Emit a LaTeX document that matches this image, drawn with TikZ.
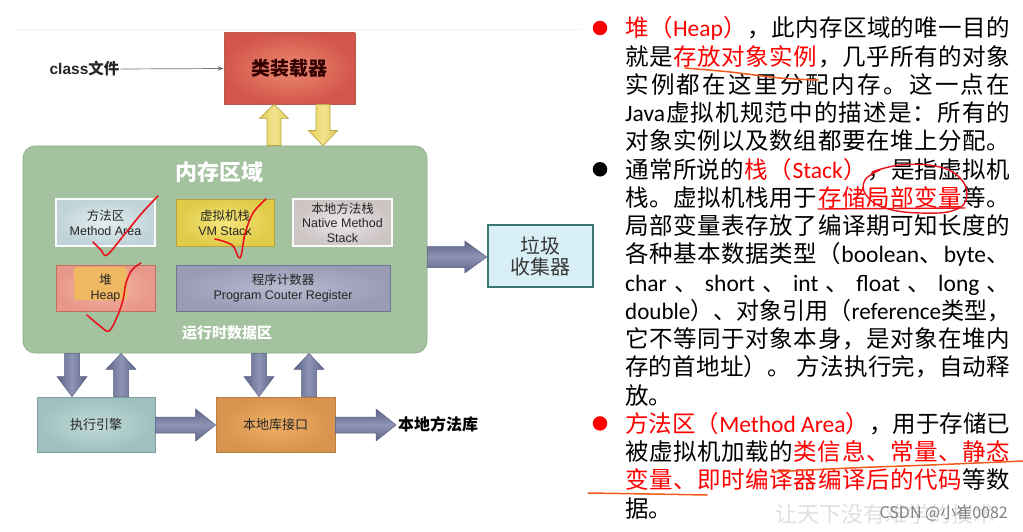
\documentclass[tikz,border=0pt]{standalone}
\usepackage{fontspec}
\usepackage{graphicx}
\setmainfont{Noto Sans CJK SC}
\newfontfamily\lat{Carlito}
\newfontfamily\arial{Liberation Sans}
\usetikzlibrary{calc,arrows.meta}

\definecolor{loaderin}{HTML}{EA8A72}
\definecolor{loaderout}{HTML}{D4564A}
\definecolor{loaderbd}{HTML}{B85A50}
\definecolor{memf}{HTML}{A4C2A0}
\definecolor{memb}{HTML}{8FB08C}
\definecolor{mthin}{HTML}{E4EEF0}
\definecolor{mthout}{HTML}{BFD3D8}
\definecolor{vmin}{HTML}{F5E67A}
\definecolor{vmout}{HTML}{E0CA48}
\definecolor{vmbd}{HTML}{B3A440}
\definecolor{natin}{HTML}{ECE7E7}
\definecolor{natout}{HTML}{CDC4C4}
\definecolor{heapin}{HTML}{F3B8A4}
\definecolor{heapout}{HTML}{E8988A}
\definecolor{heapbd}{HTML}{C2705C}
\definecolor{heappatch}{HTML}{F0B862}
\definecolor{pcin}{HTML}{B8BACF}
\definecolor{pcout}{HTML}{9A9CB6}
\definecolor{pcbd}{HTML}{6D7590}
\definecolor{gcf}{HTML}{D8EFF6}
\definecolor{gcbd}{HTML}{3D7572}
\definecolor{exin}{HTML}{C0DAD8}
\definecolor{exout}{HTML}{9EC0BE}
\definecolor{exbd}{HTML}{7FA0A0}
\definecolor{nlin}{HTML}{EFAE66}
\definecolor{nlout}{HTML}{D8934E}
\definecolor{nlbd}{HTML}{B87D45}
\definecolor{arrdark}{HTML}{5D6488}
\definecolor{arrlight}{HTML}{8E94B4}
\definecolor{arrbd}{HTML}{575E80}
\definecolor{ydark}{HTML}{E0CA55}
\definecolor{ylight}{HTML}{F3E58E}
\definecolor{ybd}{HTML}{B9A544}
\definecolor{penred}{HTML}{E8141C}
\definecolor{penorange}{HTML}{F25A1E}
\definecolor{txtdark}{HTML}{262626}

\newcommand\jg{\hskip 0pt plus 1fil\relax}
\def\jspEnd{}
\newcommand\jsp[1]{\jspA#1\jspEnd}
\def\jspA#1{#1\futurelet\jnext\jspB}
\def\jspB{\ifx\jnext\jspEnd\expandafter\jgobble\else\jg\expandafter\jspA\fi}
\def\jgobble#1{}
\newsavebox\jbox
\newcommand\jline[1]{\sbox\jbox{#1}\ifdim\wd\jbox>385pt\relax\resizebox{385pt}{\height}{\usebox\jbox}\else\hbox to 385pt{#1\unskip}\fi}

\newcommand\blockarrow[6]{\path[#1] let \p1=(#2), \p2=(#3), \p3=($(\p2)!#6!(\p1)$) in
  ($(\p1)!#4!90:(\p2)$) -- ($(\p3)!#4!90:(\p2)$) -- ($(\p3)!#5!90:(\p2)$) -- (\p2)
  -- ($(\p3)!#5!-90:(\p2)$) -- ($(\p3)!#4!-90:(\p2)$) -- ($(\p1)!#4!-90:(\p2)$) -- cycle;}

\tikzset{
  box/.style={rectangle, inner sep=0pt, line width=0.8pt, text=txtdark},
  small/.style={font=\fontsize{12.5}{14.7}\selectfont, align=center, text=txtdark, inner sep=0pt},
  varrow/.style={left color=arrdark, right color=arrdark, middle color=arrlight, draw=arrbd, line width=0.5pt},
  harrow/.style={top color=arrdark, bottom color=arrdark, middle color=arrlight, draw=arrbd, line width=0.5pt},
  yarrow/.style={left color=ydark, right color=ydark, middle color=ylight, draw=ybd, line width=0.7pt},
  redpen/.style={draw=penred, line width=1.6pt, line cap=round, line join=round},
  orapen/.style={draw=penorange, line width=1.5pt, line cap=round, line join=round},
  rtx/.style={anchor=base west, inner sep=0pt, font=\fontsize{23.5}{28}\selectfont},
  bul/.style={circle, inner sep=0pt, minimum size=14.5pt},
}

\begin{document}
\begin{tikzpicture}[x=1pt,y=-1pt]
\useasboundingbox (0,0) rectangle (1023,532);
\fill[white] (0,0) rectangle (1023,532);
\draw[black!6, line width=0.8pt] (14,29) -- (580,29);

% ---------- left diagram ----------
\node[box, minimum width=131pt, minimum height=71pt, inner color=loaderin, outer color=loaderout,
      draw=loaderbd, font=\bfseries\fontsize{19}{22}\selectfont, text=black!80!red] (loader) at (289.5,68.5) {类装载器};
\node[inner sep=1pt, font=\bfseries\fontsize{15.5}{17}\selectfont, text=txtdark] (classf) at (84.5,69) {{\arial\bfseries class}文件};
\draw[-{Stealth[length=6pt,width=4.5pt]}, black!55, line width=0.7pt] (classf.east) -- (loader.west);

\node[box, draw=memb, fill=memf, rounded corners=12pt, minimum width=404pt, minimum height=207pt] (mem) at (225,249.5) {};
\node[font=\bfseries\fontsize{22}{24}\selectfont, text=white] (memt) at (219,172) {内存区域};
\node[font=\bfseries\fontsize{15}{17}\selectfont, text=white] (rtd) at (227,333) {运行时数据区};

\node[box, minimum width=99pt, minimum height=47pt, inner color=mthin, outer color=mthout, draw=white!90!mthout, line width=1.5pt] (method) at (105.5,222.5) {};
\node[small] (methodt) at (method.center) {方法区\\{\arial Method Area}};
\node[box, minimum width=98pt, minimum height=47pt, inner color=vmin, outer color=vmout, draw=vmbd] (vmstack) at (225,222.5) {};
\node[small] (vmstackt) at (vmstack.center) {虚拟机栈\\{\arial VM Stack}};
\node[box, minimum width=99pt, minimum height=47pt, inner color=natin, outer color=natout, draw=white!92!natout, line width=1.5pt] (native) at (342.5,222.5) {};
\node[small] (nativet) at (native.center) {本地方法栈\\{\arial Native Method}\\{\arial Stack}};

\node[box, minimum width=99pt, minimum height=46pt, inner color=heapin, outer color=heapout, draw=heapbd] (heap) at (105.5,288) {};
\fill[heappatch, rounded corners=3pt] (74,267) rectangle (127,300);
\node[small] (heapt) at (heap.center) {堆\\{\arial Heap}};
\node[box, minimum width=214pt, minimum height=46pt, inner color=pcin, outer color=pcout, draw=pcbd] (pc) at (283,288) {};
\node[small] (pct) at (pc.center) {程序计数器\\{\arial Program Couter Register}};

\node[box, minimum width=105pt, minimum height=62pt, fill=gcf, draw=gcbd, line width=2.5pt,
      font=\fontsize{20}{21}\selectfont, align=center, text=black!78] (gc) at (540.5,256) {垃圾\\收集器};

\node[box, minimum width=118pt, minimum height=55pt, inner color=exin, outer color=exout, draw=exbd,
      font=\fontsize{13}{15}\selectfont] (exec) at (96,424.5) {执行引擎};
\node[box, minimum width=119pt, minimum height=55pt, inner color=nlin, outer color=nlout, draw=nlbd,
      font=\fontsize{13}{15}\selectfont] (nlib) at (275.5,424.5) {本地库接口};
\node[anchor=west, inner sep=2pt, font=\bfseries\fontsize{16}{18}\selectfont, text=black] (nmlib) at (396,424) {本地方法库};

% block arrows
\blockarrow{yarrow}{274,0 |- mem.north}{274,0 |- loader.south}{7pt}{14.5pt}{14pt}
\blockarrow{yarrow}{323,0 |- loader.south}{323,0 |- mem.north}{7pt}{14.5pt}{15pt}
\blockarrow{harrow}{mem.east |- 0,257}{gc.west |- 0,257}{10.5pt}{16pt}{22pt}
\blockarrow{varrow}{72,0 |- mem.south}{72,0 |- exec.north}{7.5pt}{15pt}{20pt}
\blockarrow{varrow}{121,0 |- exec.north}{121,0 |- mem.south}{7.5pt}{15pt}{16pt}
\blockarrow{varrow}{259,0 |- mem.south}{259,0 |- nlib.north}{7.5pt}{15pt}{20pt}
\blockarrow{varrow}{309,0 |- nlib.north}{309,0 |- mem.south}{7.5pt}{15pt}{16pt}
\blockarrow{harrow}{exec.east |- 0,425}{nlib.west |- 0,425}{8pt}{16pt}{20pt}
\blockarrow{harrow}{nlib.east |- 0,425}{nmlib.west |- 0,425}{8pt}{16pt}{20pt}

% check marks
\draw[redpen] plot[smooth, tension=0.6] coordinates {(93,242) (101,250) (107,255) (124,235) (142,213) (158,196)};
\draw[redpen] plot[smooth, tension=0.6] coordinates {(215,239) (232,245) (240,258) (245,234) (253,213) (266,199)};
\draw[redpen] plot[smooth, tension=0.6] coordinates {(87,315) (100,326) (109,331) (117,317) (123,300) (126,283) (132,270) (141,263)};

% ---------- right text ----------
\node[bul, fill=red] (b1) at (600,28) {};
\node[bul, fill=black] (b2) at (600,169.3) {};
\node[bul, fill=red] (b3) at (600,423.4) {};

\node[rtx] (l1) at (625,36.9) {\jline{{\color{red}\jsp{堆（}\jg{\lat Heap}\jg\jsp{）}}\jg\jsp{，此内存区域的唯一目的}}};
\node[rtx] (l2) at (625,65.1) {\jline{\jsp{就是}\jg{\color{red}\jsp{存放对象实例}}\jg\jsp{，几乎所有的对象}}};
\node[rtx] (l3) at (625,93.4) {\jline{\jsp{实例都在这里分配内存。这一点在}}};
\node[rtx] (l4) at (625,121.6) {\jline{{\lat Java}\jg\jsp{虚拟机规范中的描述是：所有的}}};
\node[rtx] (l5) at (625,149.9) {\jline{\jsp{对象实例以及数组都要在堆上分配。}}};
\node[rtx] (l6) at (625,178.1) {\jline{\jsp{通常所说的}\jg{\color{red}\jsp{栈（}\jg{\lat Stack}\jg\jsp{）}}\jg\jsp{，是指虚拟机}}};
\node[rtx] (l7) at (625,206.3) {\jline{\jsp{栈。虚拟机栈用于}\jg{\color{red}\jsp{存储局部变量}}\jg\jsp{等。}}};
\node[rtx] (l8) at (625,234.6) {\jline{\jsp{局部变量表存放了编译期可知长度的}}};
\node[rtx] (l9) at (625,262.8) {\jline{\jsp{各种基本数据类型（}\jg{\lat boolean}\jg\jsp{、}\jg{\lat byte}\jg\jsp{、}}};
\node[rtx] (l10) at (625,291.1) {\jline{{\lat char} 、 {\lat short} 、 {\lat int} 、 {\lat float} 、 {\lat long} 、}};
\node[rtx] (l11) at (625,319.3) {\jline{{\lat double}\jg\jsp{）、对象引用（}\jg{\lat reference}\jg\jsp{类型，}}};
\node[rtx] (l12) at (625,347.5) {\jline{\jsp{它不等同于对象本身，是对象在堆内}}};
\node[rtx] (l13) at (625,375.8) {\jline{\jsp{存的首地址）。}\jg\ \jg\jsp{方法执行完，自动释}}};
\node[rtx] (l14) at (625,404.0) {放。};
\node[rtx] (l15) at (625,432.3) {\jline{{\color{red}\jsp{方法区（}\jg{\lat Method Area}\jg\jsp{）}}\jg\jsp{，用于存储已}}};
\node[rtx] (l16) at (625,460.5) {\jline{\jsp{被虚拟机加载的}\jg{\color{red}\jsp{类信息、常量、静态}}}};
\node[rtx] (l17) at (625,488.7) {\jline{{\color{red}\jsp{变量、即时编译器编译后的代码}}\jg\jsp{等数}}};
\node[rtx] (l18) at (625,517.0) {据。};

% annotations on text
\draw[orapen] plot[smooth, tension=0.6] coordinates {(685,68) (730,72) (780,78) (818,80)};
\draw[redpen, line width=1.4pt] plot[smooth, tension=0.5] coordinates {(818,209) (890,208.5) (965,208)};
\draw[redpen, line width=1.4pt] plot[smooth, tension=0.7] coordinates {(872,172) (900,165) (935,166) (958,176) (967,195) (955,210) (920,213) (885,208) (866,195) (865,180) (880,170)};
\draw[orapen] plot[smooth, tension=0.6] coordinates {(772,472) (850,468) (930,465) (1023,461)};
\draw[orapen] plot[smooth, tension=0.6] coordinates {(588,493) (650,494) (707,495)};

% watermark
\node[anchor=west, inner sep=0pt, text=black!12, font=\fontsize{22}{24}\selectfont] (wm1) at (775,514) {让天下没有难学的技术};
\node[anchor=east, inner sep=0pt, text=black!50, font=\fontsize{16}{18}\selectfont] (wm2) at (1008,513) {CSDN @小崔0082};
\end{tikzpicture}
\end{document}
